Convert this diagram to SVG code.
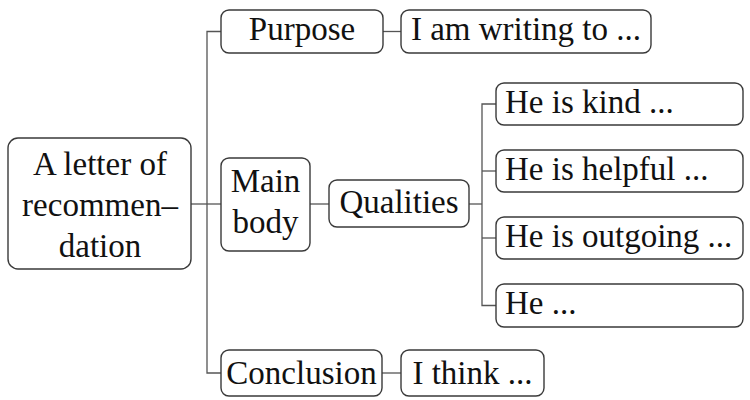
<svg xmlns="http://www.w3.org/2000/svg" width="750" height="400" viewBox="0 0 750 400">
<style>
.box{fill:#fff;stroke:#3a3a3a;stroke-width:1.4}
.t{font-family:'Liberation Serif','Times New Roman','DejaVu Serif',serif;font-size:33px;fill:#111}
.c{text-anchor:middle}
.ln{fill:none;stroke:#555;stroke-width:1.3}
</style>
<rect width="750" height="400" fill="#fff"/>
<g id="connectors">
<path class="ln" d="M191 204H221"/>
<path class="ln" d="M221 31.5H207V373H221"/>
<path class="ln" d="M383 31.5H401"/>
<path class="ln" d="M310 204H329"/>
<path class="ln" d="M469 204H482"/>
<path class="ln" d="M496 104H482V305.5H496"/>
<path class="ln" d="M482 171H496"/>
<path class="ln" d="M482 238H496"/>
<path class="ln" d="M382 373H401"/>
</g>
<g id="root">
<rect class="box" x="8" y="138" width="183" height="131" rx="10"/>
<text class="t c" x="100" y="175">A letter of</text>
<text class="t c" x="100" y="216">recommen–</text>
<text class="t c" x="100" y="257">dation</text>
</g>
<g id="purpose">
<rect class="box" x="221" y="10" width="162" height="43" rx="8"/>
<text class="t c" x="302" y="40">Purpose</text>
</g>
<g id="writing">
<rect class="box" x="401" y="10" width="250" height="43" rx="8"/>
<text class="t c" x="526" y="40">I am writing to ...</text>
</g>
<g id="mainbody">
<rect class="box" x="221" y="158" width="89" height="93" rx="8"/>
<text class="t c" x="265.5" y="192">Main</text>
<text class="t c" x="265.5" y="233">body</text>
</g>
<g id="qualities">
<rect class="box" x="329" y="180" width="140" height="47" rx="8"/>
<text class="t c" x="399" y="213">Qualities</text>
</g>
<g id="kind">
<rect class="box" x="496" y="83" width="247" height="42" rx="8"/>
<text class="t" x="505" y="113">He is kind ...</text>
</g>
<g id="helpful">
<rect class="box" x="496" y="150" width="247" height="42" rx="8"/>
<text class="t" x="505" y="180">He is helpful ...</text>
</g>
<g id="outgoing">
<rect class="box" x="496" y="217" width="247" height="42" rx="8"/>
<text class="t" x="505" y="247">He is outgoing ...</text>
</g>
<g id="he">
<rect class="box" x="496" y="284" width="247" height="43" rx="8"/>
<text class="t" x="505" y="314">He ...</text>
</g>
<g id="conclusion">
<rect class="box" x="221" y="350" width="161" height="46" rx="8"/>
<text class="t c" x="301.5" y="384">Conclusion</text>
</g>
<g id="think">
<rect class="box" x="401" y="350" width="143" height="46" rx="8"/>
<text class="t c" x="472.5" y="384">I think ...</text>
</g>
</svg>
